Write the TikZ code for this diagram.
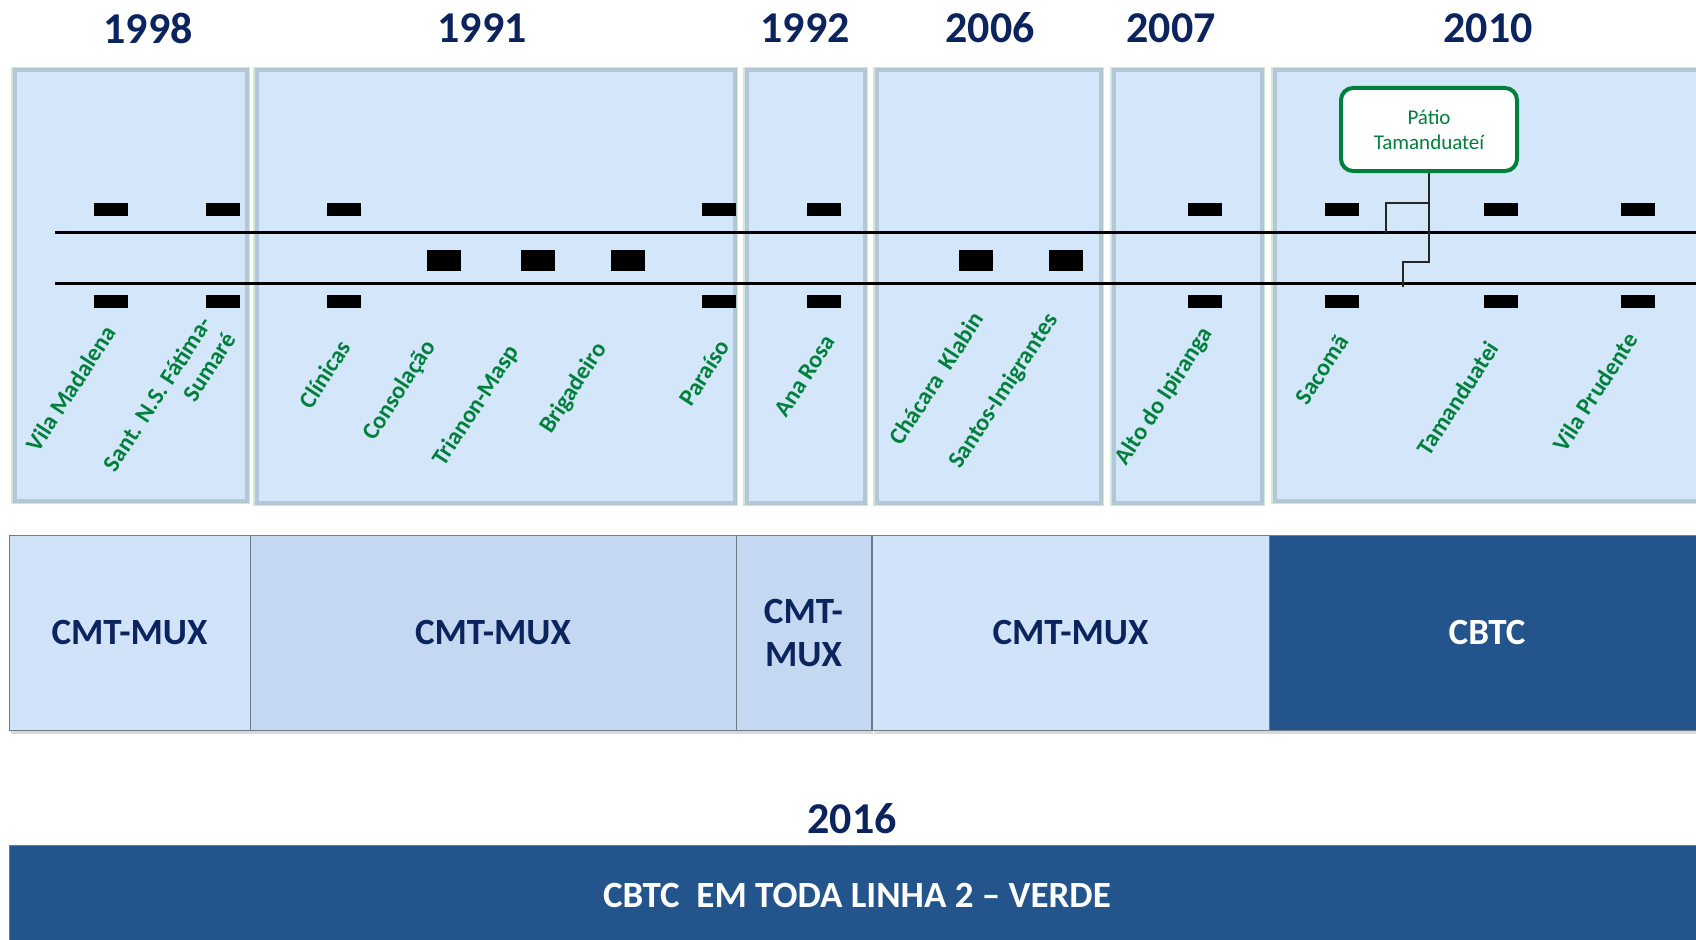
\documentclass[tikz,border=0pt]{standalone}
\usepackage{fontspec}
\setmainfont{Carlito}
\usetikzlibrary{shadows}

\definecolor{azulano}{RGB}{12,36,94}
\definecolor{painel}{RGB}{212,231,250}
\definecolor{bordapainel}{RGB}{160,176,196}
\definecolor{bordaverde}{RGB}{205,235,210}
\definecolor{verdeest}{RGB}{0,128,58}
\definecolor{cmtclaro}{RGB}{208,227,249}
\definecolor{cmtmedio}{RGB}{196,217,241}
\definecolor{cbtc}{RGB}{36,84,140}

\begin{document}
\begin{tikzpicture}[x=1pt,y=-1pt,
  ano/.style={font=\fontsize{44}{48}\selectfont\bfseries,text=azulano},
  est/.style={font=\fontsize{24}{29}\selectfont\bfseries,text=verdeest,rotate=57,anchor=east,inner sep=0pt,align=right},
  bloco/.style={draw=bordapainel!70!black,line width=0.8pt,inner sep=0pt,
    drop shadow={opacity=0.3,shadow xshift=2pt,shadow yshift=-4pt},
    font=\fontsize{37}{43}\selectfont\bfseries,text=azulano,align=center},
  trilho/.style={line width=3.5pt},
  con/.style={line width=2pt,black!85}]
  \useasboundingbox (0,0) rectangle (1696,939);
  % paineis das etapas
  \foreach \xa/\ya/\xb/\yb in {12/68/249/503,254/68/737/505,744/68/867/505,874/68/1103/505,1111/68/1264/505,1272/68/1710/503}{
    \fill[painel] (\xa,\ya) rectangle (\xb,\yb);
    \draw[bordaverde,line width=1.5pt] (\xa,\ya) rectangle (\xb,\yb);
    \draw[bordapainel,line width=4pt,opacity=0.6] (\xa+2.5,\ya+2.5) rectangle (\xb-2.5,\yb-2.5);}
  % anos
  \node[ano] (a1998) at (148,28) {1998};
  \node[ano] (a1991) at (482,28) {1991};
  \node[ano] (a1992) at (805,28) {1992};
  \node[ano] (a2006) at (990,28) {2006};
  \node[ano] (a2007) at (1171,28) {2007};
  \node[ano] (a2010) at (1488,28) {2010};
  % via
  \draw[trilho] (55,232.5) -- (1710,232.5);
  \draw[trilho] (55,283.5) -- (1710,283.5);
  \foreach \x in {111,223,344,719,824,1205,1342,1501,1638}{
    \fill (\x-17,203) rectangle ++(34,13);
    \fill (\x-17,295) rectangle ++(34,13);}
  \foreach \x in {444,538,628,976,1066}
    \fill (\x-17,250) rectangle ++(34,21);
  % patio
  \node[draw=verdeest,line width=4pt,rounded corners=12pt,fill=white,text=verdeest,
    font=\fontsize{21}{25}\selectfont,align=center,minimum width=176pt,minimum height=83pt]
    (patio) at (1429,129.5) {Pátio\\Tamanduateí};
  \coordinate (desvioA) at (1386,233);
  \coordinate (desvioB) at (1403,287);
  \draw[con] (patio.south) -- ++(0,89) -| (desvioB);
  \draw[con] (patio.south) ++(0,30) -| (desvioA);
  % estacoes
  \node[est] (vmad) at (110,328) {Vila Madalena};
  \node[est] (sumare) at (218,327) {Sant. N.S. Fátima-\\Sumaré};
  \node[est] (clin) at (345,343) {Clínicas};
  \node[est] (cons) at (431,343) {Consolação};
  \node[est] (masp) at (514,348) {Trianon-Masp};
  \node[est] (brig) at (602,345) {Brigadeiro};
  \node[est] (para) at (724,342) {Paraíso};
  \node[est] (arosa) at (830,337) {Ana Rosa};
  \node[est] (klab) at (978,314) {Chácara\ \ Klabin};
  \node[est] (imig) at (1053,316) {Santos-Imigrantes};
  \node[est] (ipir) at (1208,330) {Alto do Ipiranga};
  \node[est] (saco) at (1343,337) {Sacomã};
  \node[est] (tama) at (1493,344) {Tamanduatei};
  \node[est] (vpru) at (1632,335) {Vila Prudente};
  % sistemas
  \node[bloco,fill=cmtclaro,minimum width=241pt,minimum height=195pt] (mux1) at (129.5,632.5) {CMT-MUX};
  \node[bloco,fill=cmtmedio,minimum width=486pt,minimum height=195pt] (mux2) at (493,632.5) {CMT-MUX};
  \node[bloco,fill=cmtmedio,minimum width=135pt,minimum height=195pt] (mux3) at (803.5,632.5) {CMT-\\MUX};
  \node[bloco,fill=cmtclaro,minimum width=397pt,minimum height=195pt] (mux4) at (1070.5,632.5) {CMT-MUX};
  \node[bloco,fill=cbtc,text=white,minimum width=436pt,minimum height=195pt] (cbtc1) at (1487,632.5) {CBTC};
  % 2016
  \node[ano] (a2016) at (852,819) {2016};
  \node[bloco,fill=cbtc,text=white,minimum width=1696pt,minimum height=100pt] (cbtc2) at (857,895) {CBTC\ \ EM TODA LINHA 2 – VERDE};
\end{tikzpicture}
\end{document}
